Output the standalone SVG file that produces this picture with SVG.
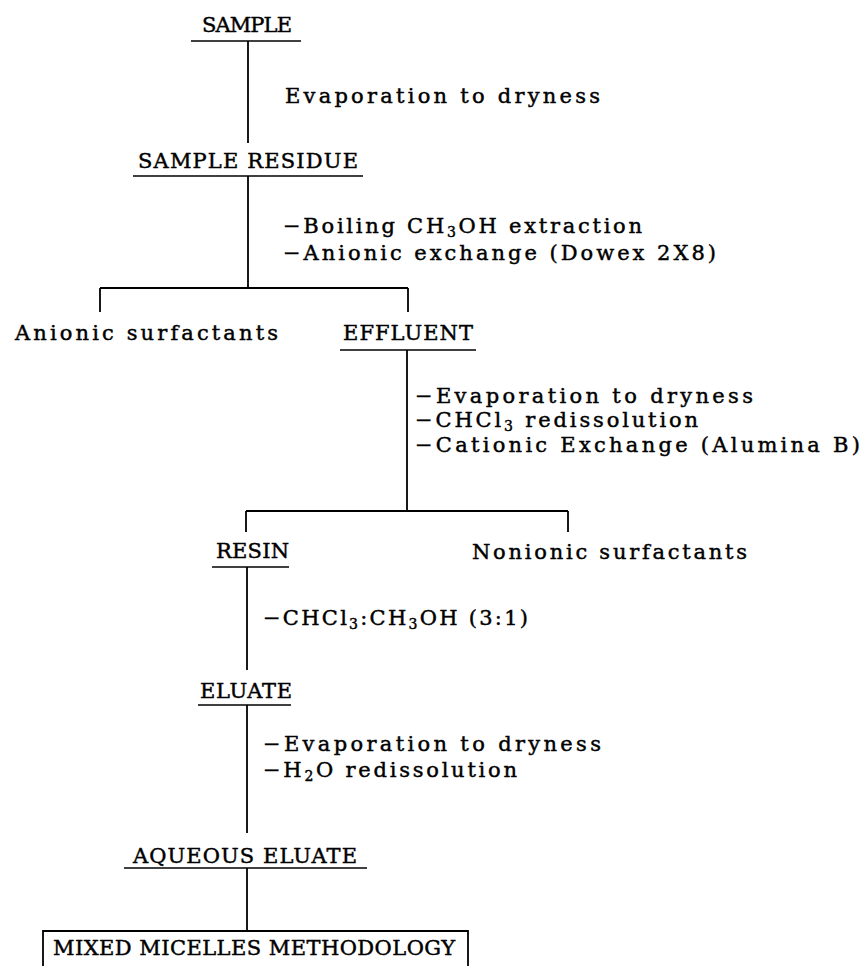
<svg xmlns="http://www.w3.org/2000/svg" width="865" height="966" viewBox="0 0 865 966">
<style>
text{font-family:"DejaVu Serif","Liberation Serif",serif;font-size:21px;fill:#000;stroke:#000;stroke-width:0.45}
.sub{font-size:14px}
.ln{stroke:#000;stroke-width:1.8;fill:none}
.ul{stroke:#000;stroke-width:1.5;fill:none}
</style>
<rect width="865" height="966" fill="#fff"/>
<g id="connectors">
<path class="ln" d="M248 41V143"/>
<path class="ln" d="M248 176V288M100 288H408M100 288V312M408 288V312"/>
<path class="ln" d="M407 350V511M246 511H568M246 511V532M568 511V532"/>
<path class="ln" d="M247 567V670"/>
<path class="ln" d="M247 705V833"/>
<path class="ln" d="M247 868V931"/>
</g>
<g id="labels">
<text x="285" y="103" textLength="315" lengthAdjust="spacing">Evaporation to dryness</text>
<text x="283" y="233" textLength="359" lengthAdjust="spacing">−Boiling CH<tspan class="sub" dy="4">3</tspan><tspan dy="-4">OH extraction</tspan></text>
<text x="283" y="260" textLength="433" lengthAdjust="spacing">−Anionic exchange (Dowex 2X8)</text>
<text x="415" y="403" textLength="338" lengthAdjust="spacing">−Evaporation to dryness</text>
<text x="415" y="427" textLength="283" lengthAdjust="spacing">−CHCl<tspan class="sub" dy="4">3</tspan><tspan dy="-4"> redissolution</tspan></text>
<text x="415" y="452" textLength="445" lengthAdjust="spacing">−Cationic Exchange (Alumina B)</text>
<text x="263" y="625" textLength="265" lengthAdjust="spacing">−CHCl<tspan class="sub" dy="4">3</tspan><tspan dy="-4">:CH</tspan><tspan class="sub" dy="4">3</tspan><tspan dy="-4">OH (3:1)</tspan></text>
<text x="263" y="751" textLength="338" lengthAdjust="spacing">−Evaporation to dryness</text>
<text x="263" y="777" textLength="254" lengthAdjust="spacing">−H<tspan class="sub" dy="4">2</tspan><tspan dy="-4">O redissolution</tspan></text>
</g>
<g id="sample">
<text x="202" y="32" textLength="90" lengthAdjust="spacing">SAMPLE</text>
<path class="ul" d="M191 41H301"/>
</g>
<g id="sample-residue">
<text x="138" y="168" textLength="220" lengthAdjust="spacing">SAMPLE RESIDUE</text>
<path class="ul" d="M133 176H363"/>
</g>
<g id="anionic-surfactants">
<text x="15" y="340" textLength="263" lengthAdjust="spacing">Anionic surfactants</text>
</g>
<g id="effluent">
<text x="343" y="340" textLength="130" lengthAdjust="spacing">EFFLUENT</text>
<path class="ul" d="M340 350H476"/>
</g>
<g id="resin">
<text x="216" y="558" textLength="73" lengthAdjust="spacing">RESIN</text>
<path class="ul" d="M212 567H289"/>
</g>
<g id="nonionic-surfactants">
<text x="472" y="559" textLength="275" lengthAdjust="spacing">Nonionic surfactants</text>
</g>
<g id="eluate">
<text x="200" y="698" textLength="92" lengthAdjust="spacing">ELUATE</text>
<path class="ul" d="M198 705H291"/>
</g>
<g id="aqueous-eluate">
<text x="133" y="863" textLength="224" lengthAdjust="spacing">AQUEOUS ELUATE</text>
<path class="ul" d="M124 868H367"/>
</g>
<g id="mixed-micelles">
<path class="ln" d="M43 972V931H468V972"/>
<text x="53" y="955" textLength="402" lengthAdjust="spacing">MIXED MICELLES METHODOLOGY</text>
</g>
</svg>
